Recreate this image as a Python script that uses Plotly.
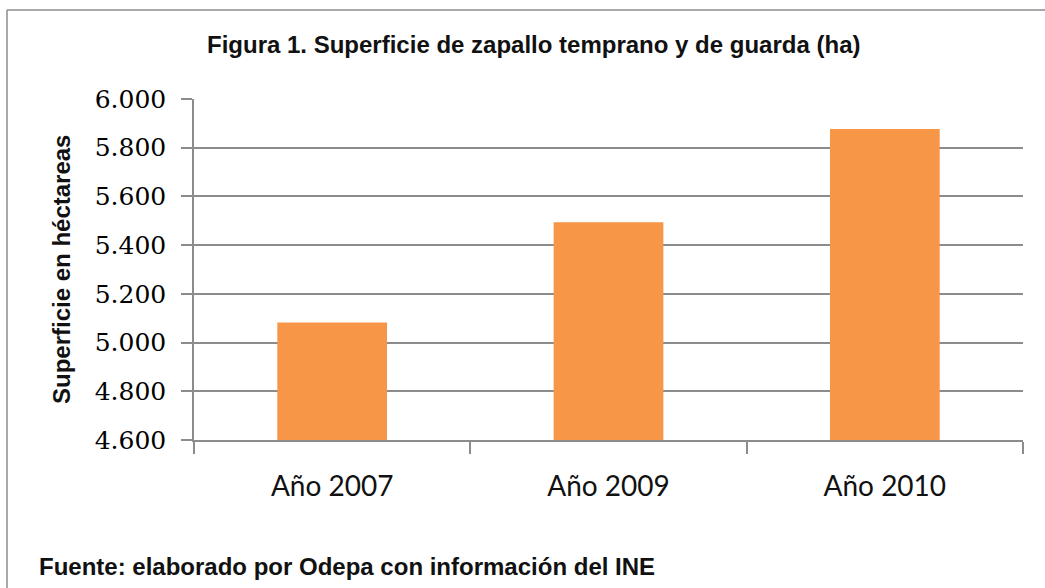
import plotly.graph_objects as go

categories = ["Año 2007", "Año 2009", "Año 2010"]
values = [5082, 5494, 5877]
y_ticks = [4600, 4800, 5000, 5200, 5400, 5600, 5800, 6000]

W, H = 1045, 588
L, R, T, B = 194, 22, 99, 148
pw, ph = W - L - R, H - T - B

def px(x):
    return (x - L) / pw

def py(y):
    return (H - B - y) / ph

fig = go.Figure(go.Bar(
    x=categories, y=values, width=0.397,
    marker=dict(color="#F79646", line=dict(width=0)),
))

bold = "Liberation Sans, Arial, sans-serif"

fig.update_layout(
    width=W, height=H,
    margin=dict(l=L, r=R, t=T, b=B),
    paper_bgcolor="white", plot_bgcolor="white",
    separators=",.",
    showlegend=False,
    xaxis=dict(
        automargin=False,
        showline=True, linecolor="#8c8c8c", linewidth=1.5,
        ticks="outside", tickson="boundaries", ticklen=12, tickcolor="#8c8c8c", tickwidth=1.5,
        tickfont=dict(family="Lato, Carlito, Calibri, sans-serif", size=28, color="#111"),
        ticklabelstandoff=21,
        showgrid=False,
    ),
    yaxis=dict(
        automargin=False,
        range=[4600, 6000], tickvals=y_ticks, tickformat=",.0f",
        showline=True, linecolor="#8c8c8c", linewidth=1.5,
        ticks="outside", ticklen=11, tickcolor="#8c8c8c", tickwidth=1.5,
        showgrid=True, gridcolor="#8c8c8c", gridwidth=1.5,
        tickfont=dict(family="DejaVu Serif, Cambria, serif", size=25, color="#000"),
        ticklabelstandoff=10,
        zeroline=False,
    ),
    annotations=[
        dict(text="<b>Figura 1. Superficie de zapallo temprano y de guarda (ha)</b>",
             x=px(205), y=py(45), xref="paper", yref="paper",
             xanchor="left", yanchor="middle", showarrow=False,
             font=dict(family=bold, size=24, color="#111")),
        dict(text="<b>Superficie en héctareas</b>",
             x=px(61), y=py(270), xref="paper", yref="paper",
             xanchor="center", yanchor="middle", showarrow=False, textangle=-90,
             font=dict(family=bold, size=24, color="#111")),
        dict(text="<b>Fuente: elaborado por Odepa con información del INE</b>",
             x=px(37), y=py(566), xref="paper", yref="paper",
             xanchor="left", yanchor="middle", showarrow=False,
             font=dict(family=bold, size=24, color="#111")),
    ],
    shapes=[
        dict(type="line", xref="paper", yref="paper",
             x0=px(7), x1=px(1060), y0=py(10), y1=py(10),
             line=dict(color="#8c8c8c", width=1.5)),
        dict(type="line", xref="paper", yref="paper",
             x0=px(7), x1=px(7), y0=py(10), y1=py(600),
             line=dict(color="#8c8c8c", width=1.5)),
    ],
)

fig.write_html("out.html", config={"displayModeBar": False},
               post_script="document.body.style.margin='0';")
